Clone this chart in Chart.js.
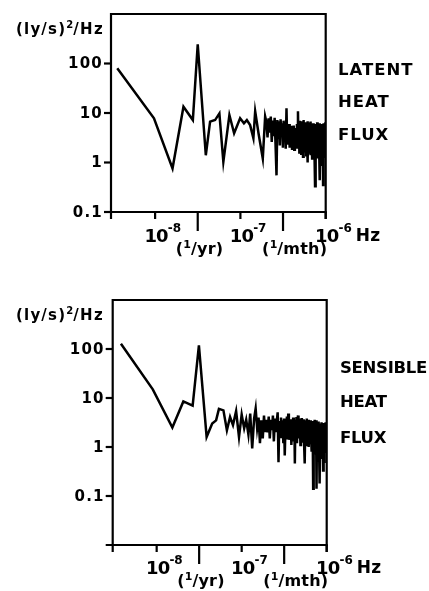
<!DOCTYPE html>
<html><head><meta charset="utf-8">
<script src="https://cdn.jsdelivr.net/npm/chart.js@4"></script>
<style>
html,body{margin:0;padding:0;background:#fff;}
#wrap{position:relative;width:429px;height:591px;overflow:hidden;background:#fff;}
canvas{position:absolute;left:0;}
</style></head><body>
<div id="wrap">
<canvas id="c1" width="429" height="280" style="top:0"></canvas>
<canvas id="c2" width="429" height="311" style="top:280px"></canvas>
</div>
<script>
// ---- axis definitions ----
const X_MIN = 3.04e-9, X_MAX = 1e-6;
const xDecadeTicks = [1e-8, 1e-7, 1e-6];
const xDecadeExp = ['-8', '-7', '-6'];
const xPeriodTicks = [3.16e-8, 3.16e-7];
const xPeriodLabels = ['yr)', 'mth)'];
const yTickValues = [100, 10, 1, 0.1];
const yTickLabels = ['100', '10', '1', '0.1'];
const yTitle = ['(ly/s)', '2', '/Hz'];
const latentTitle = ['LATENT', 'HEAT', 'FLUX'];
const sensibleTitle = ['SENSIBLE', 'HEAT', 'FLUX'];

// ---- data: frequencies in nHz, spectral density in (ly/s)^2/Hz ----
const latentFreqLow = [3.6, 9.7, 16.0, 21.5, 27.7, 31.6, 39.3, 44.1, 50.5, 56.7,
  63.1, 74.3, 84.4, 99.2, 110, 119, 130, 142, 149, 163, 183, 195];
const latentLow = [80, 7.8, 0.76, 13.4, 7.2, 245, 1.4, 6.7, 7.2, 9.8,
  1.03, 9.1, 3.9, 7.8, 6.2, 7.2, 5.7, 3.1, 10.8, 3.9, 1.2, 8.5];

const sensibleFreqLow = [3.8, 9.0, 15.3, 20.6, 26.5, 31.4, 38.7, 45, 50, 54,
  61, 67, 73, 79, 86, 93, 100, 107, 113, 120,
  126, 133, 140, 146, 152, 158, 164, 170, 177, 183, 189, 195];
const sensibleLow = [128, 15, 2.5, 8.5, 7.0, 118, 1.6, 3.0, 3.5, 6.0,
  5.6, 2.2, 4.1, 2.8, 5.4, 1.6, 4.6, 2.4, 3.6, 1.8,
  4.8, 0.93, 3.8, 6.1, 2.4, 4.0, 1.2, 3.5, 1.5, 4.4, 2.0, 3.6];

const denseFreq = [
  202, 208, 214, 221, 227, 233, 239, 246, 252, 258,
  265, 271, 277, 284, 290, 296, 302, 309, 315, 321,
  328, 334, 340, 347, 353, 359, 365, 372, 378, 384,
  391, 397, 403, 410, 416, 422, 428, 435, 441, 447,
  454, 460, 466, 473, 479, 485, 491, 498, 504, 510,
  517, 523, 529, 536, 542, 548, 554, 561, 567, 573,
  580, 586, 592, 599, 605, 611, 617, 624, 630, 636,
  643, 649, 655, 662, 668, 674, 680, 687, 693, 699,
  706, 712, 718, 725, 731, 737, 743, 750, 756, 762,
  769, 775, 781, 788, 794, 800, 806, 813, 819, 825,
  832, 838, 844, 851, 857, 863, 869, 876, 882, 888,
  895, 901, 907, 914, 920, 926, 932, 939, 945, 951,
  958, 964, 970, 977, 983, 989, 995];
const latentDense = [
  6.5, 3.2, 7.8, 4.0, 8.5, 2.6, 7.0, 3.4, 8.0, 2.4,
  0.55, 7.2, 3.0, 6.8, 2.2, 7.5, 3.6, 6.2, 2.0, 7.0,
  2.8, 6.5, 1.9, 12.5, 3.0, 5.8, 2.3, 6.0, 2.0, 5.2,
  2.6, 5.5, 1.9, 4.8, 2.2, 5.6, 1.8, 5.0, 2.4, 4.6,
  2.0, 6.0, 3.0, 10.8, 2.5, 6.5, 1.6, 7.0, 2.2, 6.0,
  1.5, 6.8, 2.4, 5.5, 1.3, 7.2, 2.0, 6.2, 1.6, 5.8,
  2.2, 6.5, 1.4, 5.6, 2.5, 6.8, 1.0, 5.5, 2.0, 6.4,
  1.6, 5.8, 2.3, 6.7, 1.4, 5.2, 2.1, 6.0, 1.2, 5.4,
  1.8, 6.2, 1.5, 5.0, 2.2, 5.8, 1.3, 0.33, 4.8, 1.6,
  6.0, 1.4, 5.2, 2.0, 6.5, 1.2, 4.8, 1.7, 5.6, 1.3,
  5.0, 1.8, 6.2, 1.1, 0.44, 4.6, 1.5, 5.4, 1.2, 6.0,
  1.4, 4.8, 0.9, 5.5, 1.6, 4.4, 0.35, 5.2, 1.3, 6.2,
  1.5, 5.0, 1.2, 4.6, 1.8, 6.5, 2.2];
const sensibleDense = [
  2.0, 4.2, 1.5, 3.6, 2.2, 4.4, 1.3, 3.8, 2.0, 3.2,
  5.1, 0.49, 3.4, 1.6, 4.0, 1.8, 3.5, 1.2, 3.8, 0.67,
  3.0, 1.5, 4.2, 2.0, 4.8, 1.4, 3.2, 1.9, 3.7, 1.1,
  3.4, 1.7, 4.0, 1.3, 3.6, 0.46, 3.2, 1.8, 4.1, 1.2,
  3.5, 4.4, 1.5, 3.0, 1.9, 3.8, 1.1, 3.4, 1.6, 3.9,
  1.3, 3.2, 2.0, 3.7, 1.2, 3.0, 0.46, 3.5, 1.5, 3.3,
  1.8, 3.8, 1.1, 3.1, 1.6, 3.6, 1.0, 3.3, 1.9, 2.9,
  1.2, 3.5, 1.7, 3.0, 0.8, 3.4, 1.5, 2.8, 0.14, 3.2,
  1.4, 3.0, 1.0, 3.6, 1.6, 2.9, 0.7, 3.2, 3.5, 0.14,
  2.8, 1.2, 3.1, 0.8, 2.7, 1.5, 3.3, 1.0, 2.9, 1.3,
  0.18, 3.0, 1.1, 2.8, 0.6, 3.2, 1.4, 2.7, 0.9, 3.0,
  1.2, 2.6, 0.33, 3.1, 1.0, 2.8, 0.5, 3.0, 1.3, 2.7,
  0.8, 3.2, 1.1, 2.6, 0.9, 3.0, 1.5];

function buildPoints(fLow, vLow, fDense, vDense) {
  const out = [];
  fLow.forEach((f, i) => out.push({x: f * 1e-9, y: vLow[i]}));
  fDense.forEach((f, i) => { if (i < vDense.length) out.push({x: f * 1e-9, y: vDense[i]}); });
  return out;
}

const FONT = '"DejaVu Sans", "Liberation Sans", sans-serif';
function setFont(ctx, size, ls) {
  ctx.font = 'bold ' + size + 'px ' + FONT;
  try { ctx.letterSpacing = (ls || 0) + 'px'; } catch (e) {}
}
// parts: [text, size, dy, letterSpacing]
function rich(ctx, parts, x, y) {
  let cx = x;
  parts.forEach(p => {
    setFont(ctx, p[1], p[3]);
    ctx.fillText(p[0], cx, y + (p[2] || 0));
    cx += ctx.measureText(p[0]).width;
  });
  return cx;
}
function seg(ctx, x1, y1, x2, y2) {
  ctx.beginPath(); ctx.moveTo(x1, y1); ctx.lineTo(x2, y2); ctx.stroke();
}

const framePlugin = {
  id: 'frame',
  afterDraw(chart, args, o) {
    const ctx = chart.ctx, a = chart.chartArea, xs = chart.scales.x, ys = chart.scales.y;
    ctx.save();
    ctx.strokeStyle = '#000'; ctx.fillStyle = '#000'; ctx.lineCap = 'butt';
    ctx.lineWidth = 2.2;
    seg(ctx, a.left, a.top - 1, a.left, a.bottom + 7);
    seg(ctx, a.left - 7, a.bottom, a.right + 1, a.bottom);
    seg(ctx, a.left, a.top, a.right, a.top);
    seg(ctx, a.right, a.top - 1, a.right, a.bottom + 7);
    // y ticks and labels
    ctx.textBaseline = 'middle'; ctx.textAlign = 'right';
    yTickValues.forEach((v, i) => {
      const py = ys.getPixelForValue(v);
      seg(ctx, a.left - 7, py, a.left, py);
      setFont(ctx, 15, 1.2);
      ctx.fillText(yTickLabels[i], a.left - 8, py + 1);
    });
    ctx.textAlign = 'left'; ctx.textBaseline = 'alphabetic';
    // x decade ticks + labels
    xDecadeTicks.forEach((v, i) => {
      const px = xs.getPixelForValue(v);
      seg(ctx, px, a.bottom, px, a.bottom + 7);
      setFont(ctx, 18, -0.8);
      const w = ctx.measureText('10').width;
      const end = rich(ctx, [['10', 18, 0, -0.8], [xDecadeExp[i], 12, -10, 0]], px + 1 - w / 2, a.bottom + o.labelDy);
      if (i === xDecadeTicks.length - 1) rich(ctx, [['Hz', 17, -1, 0.3]], end + 4, a.bottom + o.labelDy);
    });
    // period ticks + labels
    xPeriodTicks.forEach((v, i) => {
      const px = xs.getPixelForValue(v);
      seg(ctx, px, a.bottom, px, a.bottom + 19);
      rich(ctx, [['(', 16, 0, 0.3], ['1', 11, -6, 0], ['/' + xPeriodLabels[i], 16, 0, 0.2]],
        px + o.periodDx[i], a.bottom + o.periodDy);
    });
    // y axis title
    rich(ctx, [[yTitle[0], 15, 0, 1.2], [yTitle[1], 10, -6, 0], [yTitle[2], 15, 0, 1.4]], 16, o.titleY);
    // side labels
    o.side.forEach((t, i) => {
      setFont(ctx, 16.5, o.sideLs);
      ctx.fillText(t, o.sideX, o.sideY[i]);
    });
    ctx.restore();
  }
};

function makeChart(id, points, yMin, pad, opts) {
  return new Chart(document.getElementById(id), {
    type: 'scatter',
    data: { datasets: [{ data: points, showLine: true, borderColor: '#000', borderWidth: 2.5,
      pointRadius: 0, tension: 0, borderJoinStyle: 'miter', fill: false }] },
    options: {
      responsive: false, animation: false, events: [],
      layout: { padding: pad },
      plugins: { legend: { display: false }, tooltip: { enabled: false }, frame: opts },
      scales: {
        x: { type: 'logarithmic', min: X_MIN, max: X_MAX, display: false },
        y: { type: 'logarithmic', min: yMin, max: 1000, display: false }
      }
    },
    plugins: [framePlugin]
  });
}

makeChart('c1', buildPoints(latentFreqLow, latentLow, denseFreq, latentDense), 0.1,
  { left: 111, right: 103.3, top: 14, bottom: 68 },
  { labelDy: 29.5, periodDy: 42, periodDx: [-22, -21], titleY: 33.5,
    side: latentTitle, sideX: 338, sideY: [75, 107, 140], sideLs: 1.0 });

makeChart('c2', buildPoints(sensibleFreqLow, sensibleLow, denseFreq, sensibleDense), 0.01,
  { left: 112.7, right: 102.3, top: 20, bottom: 46 },
  { labelDy: 28.5, periodDy: 41, periodDx: [-22, -21], titleY: 40,
    side: sensibleTitle, sideX: 340, sideY: [93.3, 126.7, 163.3], sideLs: -0.3 });
</script>
</body></html>
